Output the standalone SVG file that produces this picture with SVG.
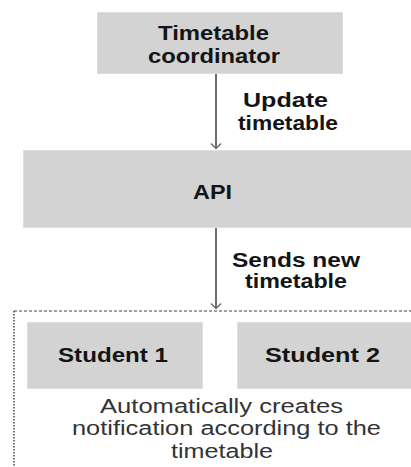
<svg xmlns="http://www.w3.org/2000/svg" width="411" height="467" viewBox="0 0 411 467">
<defs>
<style>
.box{fill:#d3d3d3;stroke:#dedede;stroke-width:1}
.b{font-family:"Liberation Sans",Arial,sans-serif;font-weight:bold;font-size:20px;fill:#141414}
.r{font-family:"Liberation Sans",Arial,sans-serif;font-size:20px;fill:#333}
.edge{stroke:#6e6e6e;stroke-width:2;fill:none}
.head{stroke:#6e6e6e;stroke-width:1.5;fill:none}
.dash{stroke:#444;stroke-width:1.2;fill:none;stroke-dasharray:3 2}
.dot{stroke:#444;stroke-width:1.5;fill:none;stroke-dasharray:1.5 1.5}
</style>
</defs>
<rect width="411" height="467" fill="#fff"/>
<g id="node-coordinator">
<rect class="box" x="97.5" y="12.5" width="245" height="61"/>
<text class="b" x="158" y="40" textLength="111" lengthAdjust="spacingAndGlyphs">Timetable</text>
<text class="b" x="148" y="63" textLength="132" lengthAdjust="spacingAndGlyphs">coordinator</text>
</g>
<g id="node-api">
<rect class="box" x="23.5" y="150.5" width="392" height="77"/>
<text class="b" x="193" y="199" textLength="39" lengthAdjust="spacingAndGlyphs">API</text>
</g>
<g id="group-students">
<path class="dash" d="M14,311 H411"/>
<path class="dot" d="M14,311 V467"/>
</g>
<g id="node-student1">
<rect class="box" x="27.5" y="322.5" width="175" height="66"/>
<text class="b" x="58" y="362" textLength="110" lengthAdjust="spacingAndGlyphs">Student 1</text>
</g>
<g id="node-student2">
<rect class="box" x="237.5" y="322.5" width="180" height="66"/>
<text class="b" x="265" y="362" textLength="115" lengthAdjust="spacingAndGlyphs">Student 2</text>
</g>
<g id="note">
<text class="r" x="100" y="413" textLength="243" lengthAdjust="spacingAndGlyphs">Automatically creates</text>
<text class="r" x="72" y="435" textLength="309" lengthAdjust="spacingAndGlyphs">notification according to the</text>
<text class="r" x="171" y="458" textLength="102" lengthAdjust="spacingAndGlyphs">timetable</text>
</g>
<g id="connectors">
<line class="edge" x1="216" y1="74" x2="216" y2="148"/>
<path class="head" d="M211,143.5 L216,148.5 L221,143.5"/>
<text class="b" x="243" y="107" textLength="85" lengthAdjust="spacingAndGlyphs">Update</text>
<text class="b" x="238" y="130" textLength="100" lengthAdjust="spacingAndGlyphs">timetable</text>
<line class="edge" x1="216" y1="228" x2="216" y2="308"/>
<path class="head" d="M211,303.5 L216,308.5 L221,303.5"/>
<text class="b" x="232" y="267" textLength="128" lengthAdjust="spacingAndGlyphs">Sends new</text>
<text class="b" x="245" y="288" textLength="102" lengthAdjust="spacingAndGlyphs">timetable</text>
</g>
</svg>
